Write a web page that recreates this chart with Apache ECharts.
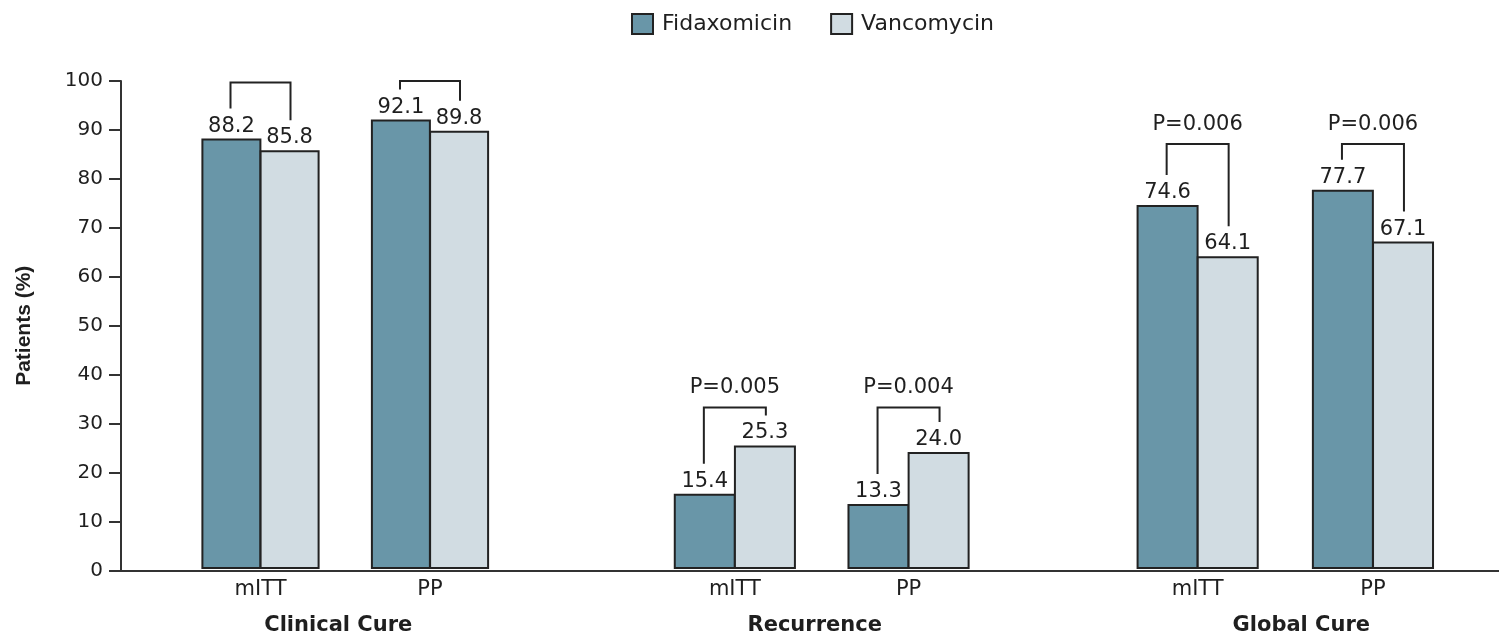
<!DOCTYPE html>
<html>
<head>
<meta charset="utf-8">
<script src="https://cdn.jsdelivr.net/npm/echarts@6/dist/echarts.min.js"></script>
<style>
  html, body { margin: 0; padding: 0; background: #ffffff; }
  #chart { width: 1499px; height: 641px; }
</style>
</head>
<body>
<div id="chart"></div>
<script>
// ---- data ----
var groups = ['Clinical Cure', 'Recurrence', 'Global Cure'];
var subgroups = ['mITT', 'PP'];
var fidaxomicin = [88.2, 92.1, 15.4, 13.3, 74.6, 77.7];
var vancomycin = [85.8, 89.8, 25.3, 24.0, 64.1, 67.1];
var bracketTop = [99.7, 100, 33.1, 33.1, 87.1, 87.1];
var pValues = ['', '', 'P=0.005', 'P=0.004', 'P=0.006', 'P=0.006'];
var yMin = 0, yMax = 100, yStep = 10;

// ---- styling / layout ----
var FID_COLOR = '#6996a8';
var VAN_COLOR = '#d1dce2';
var EDGE = '#222222';
var TEXT = '#1f1f1f';
var FONT = 'DejaVu Sans';
var GRID_TOP = 81, GRID_H = 489.5;
var groupGrids = [
  { left: 175.75, width: 339, barW: 60, namePad: [0, 14, 0, 0] },
  { left: 648, width: 347.4, barW: 62, namePad: [0, 14, 0, 0] },
  { left: 1110, width: 350.6, barW: 62, namePad: [0, 0, 0, 32] }
];
var LEG_OFFSET = 30; // px gap between bar top and bracket leg end

var grid = [{ left: 121, right: 0, top: GRID_TOP, height: GRID_H }];
var xAxis = [{
  gridIndex: 0, type: 'value', min: 0, max: 1,
  axisLine: { show: true, lineStyle: { color: '#333', width: 2 } },
  axisTick: { show: false }, axisLabel: { show: false }, splitLine: { show: false }
}];
var yAxis = [{
  gridIndex: 0, type: 'value', min: yMin, max: yMax, interval: yStep,
  name: 'Patients (%)', nameLocation: 'middle', nameGap: 86,
  nameTextStyle: { fontFamily: 'Liberation Sans', fontWeight: 'bold', fontSize: 21, color: TEXT },
  axisLine: { show: true, lineStyle: { color: '#333', width: 2 } },
  axisTick: { show: true, length: 12, lineStyle: { color: '#333', width: 2 } },
  axisLabel: { fontFamily: FONT, fontSize: 20, color: TEXT, margin: 18 },
  splitLine: { show: false }
}];
var series = [];

groupGrids.forEach(function (g, gi) {
  var idx = gi + 1;
  grid.push({ left: g.left, width: g.width, top: GRID_TOP, height: GRID_H });
  xAxis.push({
    gridIndex: idx, type: 'category', data: subgroups,
    name: groups[gi], nameLocation: 'middle', nameGap: 46,
    nameTextStyle: { fontFamily: FONT, fontWeight: 'bold', fontSize: 21, color: TEXT, padding: g.namePad },
    axisLine: { show: false }, axisTick: { show: false },
    axisLabel: { fontFamily: FONT, fontSize: 21, color: TEXT, margin: 10 }
  });
  yAxis.push({ gridIndex: idx, type: 'value', min: yMin, max: yMax, show: false });

  var fidSlice = fidaxomicin.slice(gi * 2, gi * 2 + 2);
  var vanSlice = vancomycin.slice(gi * 2, gi * 2 + 2);
  var labelCfg = {
    show: true, position: 'top', distance: 2,
    fontFamily: FONT, fontSize: 21, color: TEXT,
    formatter: function (p) { return Number(p.value).toFixed(1); }
  };
  series.push({
    name: 'Fidaxomicin', type: 'bar', xAxisIndex: idx, yAxisIndex: idx,
    data: fidSlice, barWidth: g.barW, barGap: '-3%',
    itemStyle: { color: FID_COLOR, borderColor: EDGE, borderWidth: 2 },
    label: labelCfg
  });
  series.push({
    name: 'Vancomycin', type: 'bar', xAxisIndex: idx, yAxisIndex: idx,
    data: vanSlice, barWidth: g.barW, barGap: '-3%',
    itemStyle: { color: VAN_COLOR, borderColor: EDGE, borderWidth: 2 },
    label: labelCfg
  });

  var bData = subgroups.map(function (s, si) {
    var k = gi * 2 + si;
    return [s, fidaxomicin[k], vancomycin[k], bracketTop[k], pValues[k]];
  });
  series.push({
    type: 'custom', xAxisIndex: idx, yAxisIndex: idx, silent: true,
    data: bData,
    renderItem: (function (barW, items) {
      return function (params, api) {
        var cat = api.value(0);
        var top = api.coord([cat, api.value(3)]);
        var fidP = api.coord([cat, api.value(1)]);
        var vanP = api.coord([cat, api.value(2)]);
        var xl = top[0] - barW / 2, xr = top[0] + barW / 2;
        var item = items[params.dataIndex];
        var children = [{
          type: 'polyline',
          shape: { points: [[xl, fidP[1] - LEG_OFFSET], [xl, top[1]], [xr, top[1]], [xr, vanP[1] - LEG_OFFSET]] },
          style: { stroke: EDGE, lineWidth: 2, fill: null }
        }];
        if (item[4]) {
          children.push({
            type: 'text',
            x: top[0], y: top[1] - 9,
            style: { text: item[4], fontFamily: FONT, fontSize: 21, fill: TEXT, align: 'center', verticalAlign: 'bottom' }
          });
        }
        return { type: 'group', children: children };
      };
    })(g.barW, bData)
  });
});

var chart = echarts.init(document.getElementById('chart'), null, { renderer: 'canvas' });
chart.setOption({
  animation: false,
  backgroundColor: '#ffffff',
  legend: {
    data: ['Fidaxomicin', 'Vancomycin'],
    left: 626, top: 8,
    itemWidth: 21, itemHeight: 20, itemGap: 38,
    icon: 'rect',
    textStyle: { fontFamily: FONT, fontSize: 22, color: TEXT, padding: [0, 0, 0, 4] }
  },
  grid: grid,
  xAxis: xAxis,
  yAxis: yAxis,
  series: series
});
</script>
</body>
</html>
